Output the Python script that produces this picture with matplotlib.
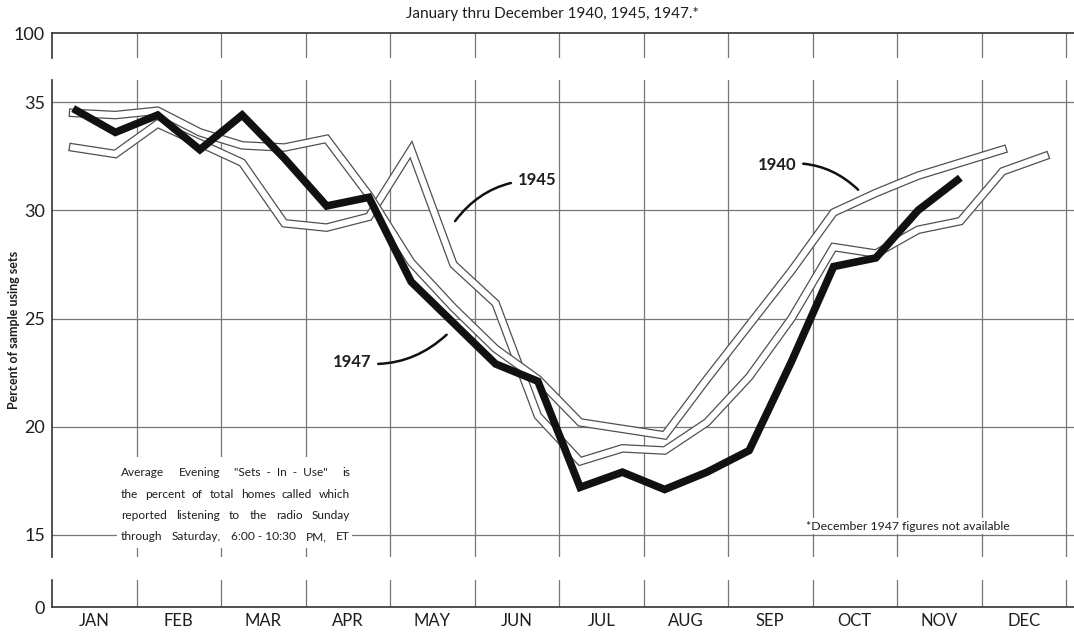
import matplotlib.pyplot as plt
import matplotlib.patheffects as pe
import numpy as np
from matplotlib.patches import Rectangle

plt.rcParams["font.family"] = ["Lato", "DejaVu Sans"]

# --- Data (semi-monthly "sets-in-use" reports) --------------------------------

months = ["JAN", "FEB", "MAR", "APR", "MAY", "JUN",
          "JUL", "AUG", "SEP", "OCT", "NOV", "DEC"]

# two reports per month: first half and second half
report_pos = np.arange(24) / 2 + 0.25

nan = np.nan
sets_1940 = [34.5, 34.4, 34.6, 33.6, 33.0, 32.9, 33.3, 30.7, 27.6, 25.5, 23.6, 22.2,
             20.2, 19.9, 19.6, 22.2, 24.7, 27.2, 29.9, 30.8, 31.6, 32.2, 32.8, nan]
sets_1945 = [32.9, 32.6, 34.0, 33.1, 32.2, 29.4, 29.2, 29.7, 32.8, 27.5, 25.7, 20.5,
             18.4, 19.0, 18.9, 20.2, 22.3, 25.0, 28.3, 28.0, 29.1, 29.5, 31.8, 32.5]
sets_1947 = [34.7, 33.6, 34.4, 32.8, 34.4, 32.4, 30.2, 30.6, 26.7, 24.8, 22.9, 22.1,
             17.2, 17.9, 17.1, 17.9, 18.9, 23.0, 27.4, 27.8, 30.0, 31.5, nan, nan]

y_ticks = [15, 20, 25, 30, 35]

# --- Layout -------------------------------------------------------------------

W, H = 1074, 633
fig = plt.figure(figsize=(W / 100, H / 100), dpi=100)

left = 52 / W
width = 1 - left
x_max = (W - 52) / 84.5
ink = "#1e1e1e"

def px_axes(top_px, bottom_px):
    return fig.add_axes([left, 1 - bottom_px / H, width, (bottom_px - top_px) / H])

grid_kw = dict(color="#777777", linewidth=0.9)

ax_top = px_axes(33, 58)
ax = px_axes(80, 557)
ax_bot = px_axes(580, 607)

for a in (ax_top, ax, ax_bot):
    a.set_xlim(0, x_max)
    a.set_facecolor("none")
    for s in a.spines.values():
        s.set_visible(False)
    a.spines["left"].set_visible(True)
    a.spines["left"].set_color("#333333")
    a.spines["left"].set_linewidth(1.2)
    a.set_xticks(np.arange(1, 13))
    a.tick_params(axis="x", which="major", length=0, labelbottom=False)
    a.tick_params(axis="y", length=0, pad=5, labelsize=13, labelcolor=ink)
    a.grid(axis="x", **grid_kw)
    a.set_axisbelow(True)

ax_top.set_ylim(0, 1)
ax_top.set_yticks([1], ["100"])
ax_top.spines["top"].set_visible(True)
ax_top.spines["top"].set_color("#333333")
ax_top.spines["top"].set_linewidth(1.2)

ax_bot.set_ylim(0, 1)
ax_bot.set_yticks([0], ["0"])
ax_bot.spines["bottom"].set_visible(True)
ax_bot.spines["bottom"].set_color("#333333")
ax_bot.spines["bottom"].set_linewidth(1.2)
ax_bot.set_xticks(np.arange(12) + 0.5, months, minor=True)
ax_bot.tick_params(axis="x", which="minor", length=0, pad=4, labelsize=12,
                   labelcolor=ink)

ax.set_ylim(13.98, 36.02)
ax.set_yticks(y_ticks)
ax.grid(axis="y", **grid_kw)

# --- Series -------------------------------------------------------------------

band = [pe.Stroke(linewidth=6.2, foreground="#505050"), pe.Normal()]
for vals in (sets_1945, sets_1940):
    ax.plot(report_pos, vals, color="white", linewidth=4.4,
            solid_joinstyle="miter", path_effects=band, zorder=3)

ax.plot(report_pos, sets_1947, color="#111111", linewidth=5.5,
        solid_joinstyle="miter", solid_capstyle="butt", zorder=5)

# --- Labels -------------------------------------------------------------------

arrow = dict(arrowstyle="-", color="#111111", lw=1.8, shrinkA=3, shrinkB=0)
lbl = dict(ha="center", va="center", fontsize=12, fontweight="bold", color=ink, zorder=6)
ax.annotate("1945", xy=(4.77, 29.5), xytext=(5.74, 31.4),
            arrowprops=dict(arrow, connectionstyle="arc3,rad=0.25"), **lbl)
ax.annotate("1940", xy=(9.54, 30.95), xytext=(8.58, 32.1),
            arrowprops=dict(arrow, connectionstyle="arc3,rad=-0.25"), **lbl)
ax.annotate("1947", xy=(4.67, 24.25), xytext=(3.55, 23.0),
            arrowprops=dict(arrow, connectionstyle="arc3,rad=0.25"), **lbl)

fig.text(552 / W, 1 - 14 / H, "January thru December 1940, 1945, 1947.*",
         ha="center", va="center", fontsize=11, color=ink)
fig.text(14 / W, 1 - 330 / H, "Percent of sample using sets", rotation=90,
         ha="center", va="center", fontsize=9, fontweight="bold", color=ink)

ax.add_patch(Rectangle((0.064, 0.019), 0.23, 0.19, transform=ax.transAxes,
                       facecolor="white", edgecolor="none", zorder=2))

# word groups separated by "|" get spread to a justified block
note_lines = ['Average|Evening|"Sets  -  In  -  Use"|is',
              "the|percent|of|total|homes|called|which",
              "reported|listening|to|the|radio|Sunday",
              "through|Saturday,|6:00 - 10:30|PM,|ET"]

renderer = fig.canvas.get_renderer()
x0, x1 = 121, 350
for i, line in enumerate(note_lines):
    y = 1 - (473 + i * 21.3) / H
    words = [fig.text(0, y, w, ha="left", va="center", fontsize=8.6, color=ink)
             for w in line.split("|")]
    widths = [t.get_window_extent(renderer).width for t in words]
    gap = (x1 - x0 - sum(widths)) / (len(words) - 1)
    pos = x0
    for t, wd in zip(words, widths):
        t.set_x(pos / W)
        pos += wd + gap

fig.text(908 / W, 1 - 526 / H, "*December 1947 figures not available",
         ha="center", va="center", fontsize=8.8, color=ink,
         bbox=dict(facecolor="white", edgecolor="none", pad=1.5))

fig.savefig("out.png", dpi=100)
